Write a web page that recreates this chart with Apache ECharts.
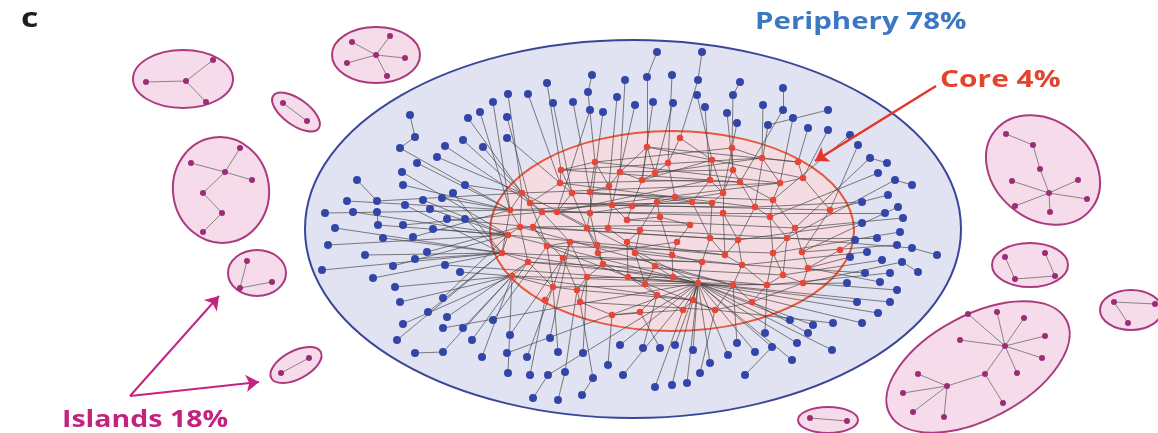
<!DOCTYPE html>
<html>
<head>
<meta charset="utf-8">
<script src="https://cdn.jsdelivr.net/npm/echarts@6/dist/echarts.min.js"></script>
<style>
html, body { margin: 0; padding: 0; background: #ffffff; }
#chart { width: 1158px; height: 433px; }
</style>
</head>
<body>
<div id="chart"></div>
<script>
// Core nodes: [x, y] in diagram units
const coreNodes = [
  [647,147],[595,162],[561,170],[620,172],[655,173],[668,163],[560,183],[590,192],[609,186],[642,180],
  [522,193],[572,193],[530,203],[542,212],[557,212],[590,213],[612,205],[632,206],[675,197],[657,202],
  [510,210],[520,227],[533,227],[508,235],[587,228],[608,228],[627,220],[660,217],[640,230],[677,242],
  [547,246],[570,242],[597,245],[627,242],[502,253],[528,262],[563,258],[598,253],[635,253],[672,255],
  [655,266],[603,264],[512,276],[587,277],[628,277],[553,287],[577,290],[645,284],[580,302],[657,295],
  [673,277],[680,138],[732,148],[762,158],[798,162],[712,160],[733,170],[710,180],[740,182],[780,183],
  [803,178],[723,193],[692,202],[712,203],[755,207],[773,200],[723,213],[770,217],[830,210],[795,228],
  [710,238],[738,240],[787,238],[725,255],[773,253],[802,252],[702,262],[742,265],[783,275],[808,268],
  [698,283],[733,285],[767,285],[803,283],[693,300],[715,310],[683,310],[612,315],[640,312],[752,302],
  [840,250],[690,225],[545,300]
];

// Periphery nodes: [x, y, node it hangs from]
const peripheryNodes = [
  [657,52,'p2'],[702,52,'p5'],[647,77,'c0'],[672,75,'c5'],[625,80,'c3'],[698,80,'c51'],[592,75,'p8'],[547,83,'c2'],[588,92,'c1'],[508,94,'c10'],
  [528,94,'c6'],[617,97,'c8'],[653,102,'c9'],[673,103,'c4'],[493,102,'c20'],[553,103,'c11'],[573,102,'c7'],[635,105,'c16'],[590,110,'c14'],[603,112,'c15'],
  [697,95,'c55'],[705,107,'c57'],[727,113,'c56'],[733,95,'c52'],[740,82,'p23'],[783,88,'p27'],[763,105,'c53'],[783,110,'c58'],[793,118,'c59'],[828,110,'p31'],
  [737,123,'c61'],[768,125,'c64'],[808,128,'c54'],[828,130,'c60'],[850,135,'c65'],[858,145,'c68'],[870,158,'c69'],[887,163,'p36'],[878,173,'c67'],[895,180,'c72'],
  [912,185,'p39'],[888,195,'c68'],[862,202,'c64'],[898,207,'c75'],[903,218,'c69'],[885,213,'c66'],[862,223,'c71'],[900,232,'c74'],[877,238,'c70'],[855,240,'c90'],
  [897,245,'c75'],[912,248,'c72'],[867,252,'c77'],[850,257,'c79'],[937,255,'p51'],[882,260,'c78'],[902,262,'c83'],[865,273,'c76'],[890,273,'c82'],[918,272,'p56'],
  [847,283,'c81'],[880,282,'c79'],[897,290,'c83'],[857,302,'c80'],[890,302,'c80'],[878,313,'c80'],[862,323,'c80'],[832,350,'c80'],[833,323,'c85'],[813,325,'c80'],
  [792,360,'c80'],[808,333,'c89'],[797,343,'c80'],[772,347,'c80'],[765,333,'c82'],[755,352,'c80'],[737,343,'c81'],[728,355,'c80'],[710,363,'c80'],[745,375,'p73'],
  [700,373,'c85'],[687,383,'c80'],[672,385,'c84'],[655,387,'c86'],[693,350,'c80'],[675,345,'c80'],[660,348,'c88'],[643,348,'c49'],[790,320,'c80'],[620,345,'c80'],
  [608,365,'c87'],[623,375,'c80'],[593,378,'c48'],[583,353,'c43'],[582,395,'p92'],[558,400,'p97'],[533,398,'p99'],[565,372,'c46'],[558,352,'c45'],[548,375,'c80'],
  [530,375,'c92'],[550,338,'c31'],[527,357,'c45'],[508,373,'c42'],[507,353,'c80'],[510,335,'c36'],[482,357,'c42'],[472,340,'c35'],[443,352,'c42'],[415,353,'p108'],
  [397,340,'c34'],[493,320,'c30'],[463,328,'c42'],[443,328,'c80'],[403,324,'c42'],[447,317,'c35'],[428,312,'c34'],[400,302,'c42'],[443,298,'c23'],[395,287,'c42'],
  [373,278,'c34'],[322,270,'c34'],[393,266,'c23'],[445,265,'c80'],[460,272,'c42'],[415,259,'c34'],[427,252,'c21'],[365,255,'c34'],[328,245,'c23'],[383,238,'c34'],
  [413,237,'c20'],[433,229,'c23'],[335,228,'c34'],[378,225,'c23'],[403,225,'c13'],[325,213,'c20'],[353,212,'c23'],[377,212,'p133'],[405,205,'c34'],[430,209,'c23'],
  [447,219,'c22'],[465,219,'c34'],[347,201,'c20'],[377,201,'c10'],[423,200,'c23'],[442,198,'c20'],[453,193,'c34'],[357,180,'p143'],[403,185,'c20'],[465,185,'c10'],
  [402,172,'c23'],[417,163,'c20'],[437,157,'c10'],[400,148,'c20'],[445,146,'c12'],[483,147,'c10'],[415,137,'p153'],[463,140,'c13'],[507,138,'c6'],[410,115,'p156'],
  [468,118,'c10'],[480,112,'c20'],[507,117,'c12']
];

// Links inside the core: pairs of core node indices
const coreLinks = [
  [0,9],[0,3],[1,8],[1,2],[2,6],[3,8],[4,9],[4,5],[5,51],[6,11],[7,8],[7,15],[9,17],[10,12],[10,20],[11,14],[12,13],[13,22],[14,15],[15,24],
  [16,17],[16,25],[17,26],[18,19],[18,62],[19,27],[20,21],[21,23],[22,30],[23,34],[24,25],[25,28],[26,27],[27,91],[28,33],[29,39],[29,91],[30,31],[31,36],[32,37],
  [32,24],[33,38],[34,35],[35,42],[36,45],[37,41],[38,40],[39,50],[40,47],[41,43],[43,46],[44,47],[45,46],[46,48],[47,49],[48,87],[49,86],[50,80],[51,55],[52,56],
  [53,59],[54,60],[55,57],[56,58],[57,61],[58,64],[59,65],[60,68],[61,63],[62,63],[63,70],[64,67],[65,69],[66,71],[67,72],[68,75],[69,72],[70,76],[71,73],[72,74],
  [73,77],[74,78],[75,79],[76,80],[77,81],[78,82],[79,83],[80,84],[80,86],[81,85],[82,89],[83,89],[84,85],[87,88],[88,49],[90,79],[92,45],
  [23,80],[34,80],[21,70],[13,66],[10,59],[6,57],[2,53],[20,67],[42,82],[35,78],[30,74],[45,81],[12,63],[22,91],[31,39],[36,76],[11,18],[7,62],[1,52],[0,54],
  [3,56],[9,58],[17,64],[26,69],[28,72],[33,73],[38,77],[40,81],[47,80],[44,80],[41,80],[37,29],[43,50],[46,84],[48,85],
  [0,4],[1,7],[2,11],[3,9],[5,18],[6,12],[8,16],[10,21],[11,24],[12,30],[13,31],[14,24],[15,32],[16,26],[19,28],[20,34],[21,35],[22,36],[24,37],[25,33],
  [27,39],[28,38],[30,45],[31,43],[32,41],[33,44],[35,45],[36,46],[38,47],[39,76],[40,50],[41,44],[42,45],[43,48],[44,49],[52,53],[53,54],[55,61],[56,61],[57,62],
  [58,65],[59,60],[61,66],[62,70],[64,71],[65,67],[66,73],[67,74],[69,75],[70,73],[71,77],[72,78],[74,82],[76,84],[77,82],[78,83],[81,89],[84,86],[85,89],[86,87],
  [10,80],[20,62],[23,73],[34,76],[21,81],[42,84],[12,68],[13,59],[22,71],[35,82],[30,85],[2,58],[6,64],[11,65],[1,59],[0,60],[4,53],[9,55],[14,57],[15,61]
];

// Island nodes: [x, y]
const islandNodes = [
  [186,81],[213,60],[146,82],[206,102],
  [376,55],[352,42],[390,36],[347,63],[387,76],[405,58],
  [283,103],[307,121],
  [240,148],[191,163],[225,172],[252,180],[203,193],[222,213],[203,232],
  [247,261],[240,288],[272,282],
  [281,373],[309,358],
  [1006,134],[1033,145],[1040,169],[1012,181],[1078,180],[1049,193],[1087,199],[1015,206],[1050,212],
  [1005,257],[1045,253],[1015,279],[1055,276],
  [1114,302],[1128,323],[1155,304],
  [1005,346],[968,314],[997,312],[1024,318],[960,340],[1045,336],[1042,358],[1017,373],[985,374],[947,386],[918,374],[903,393],[913,412],[944,417],[1003,403],
  [810,418],[847,421]
];

// Island links: pairs of island node indices
const islandLinks = [
  [0,1],[0,2],[0,3],
  [4,5],[4,6],[4,7],[4,8],[4,9],
  [10,11],
  [12,14],[13,14],[14,15],[14,16],[16,17],[17,18],
  [19,20],[20,21],
  [22,23],
  [24,25],[25,26],[26,29],[27,29],[28,29],[29,30],[29,31],[29,32],
  [33,35],[35,36],[34,36],
  [37,38],[37,39],
  [40,41],[40,42],[40,43],[40,44],[40,45],[40,46],[40,47],[40,48],[48,49],[48,54],[49,50],[49,51],[49,52],[49,53],
  [55,56]
];

// Outlines: [cx, cy, rx, ry, tilt in degrees]
const peripheryOutline = [[633, 229, 328, 189, 0]];
const coreOutline = [[672, 231, 182, 100, 0]];
const islandOutlines = [
  [183, 79, 50, 29, 0],
  [376, 55, 44, 28, 0],
  [296, 112, 28, 13, -36],
  [221, 190, 48, 53, 8],
  [257, 273, 29, 23, 0],
  [296, 365, 28, 14, 28],
  [1043, 170, 62, 49, -40],
  [1030, 265, 38, 22, 0],
  [1131, 310, 31, 20, 0],
  [978, 367, 100, 52, 28],
  [828, 420, 30, 13, 0]
];

// Annotation arrows: [[fromX, fromY], [toX, toY]]
const coreArrow = [[[936, 86], [815, 161]]];
const islandArrows = [[[130, 396], [219, 296]], [[130, 396], [259, 382]]];

const labels = [
  { text: 'c', at: [21, 20] },
  { text: 'Periphery 78%', at: [755, 22] },
  { text: 'Core 4%', at: [940, 80] },
  { text: 'Islands 18%', at: [62, 420] }
];

// ---- build series ----
const networkNodes = coreNodes.map((p, i) => ({ name: 'c' + i, value: [p[0], p[1]], category: 0 }))
  .concat(peripheryNodes.map((p, i) => ({ name: 'p' + i, value: [p[0], p[1]], category: 1 })));
const networkLinks = coreLinks.map(l => ({ source: 'c' + l[0], target: 'c' + l[1] }))
  .concat(peripheryNodes.map((p, i) => ({ source: 'p' + i, target: p[2] })));

const islandGraphNodes = islandNodes.map((p, i) => ({ name: 'i' + i, value: [p[0], p[1]] }));
const islandGraphLinks = islandLinks.map(l => ({ source: 'i' + l[0], target: 'i' + l[1] }));

function outlineSeries(data, fill, stroke, width, z) {
  return {
    type: 'custom',
    coordinateSystem: 'cartesian2d',
    silent: true,
    z: z,
    data: data,
    renderItem: function (params, api) {
      const c = api.coord([api.value(0), api.value(1)]);
      const s = api.size([api.value(2), api.value(3)]);
      return {
        type: 'ellipse',
        x: c[0],
        y: c[1],
        rotation: api.value(4) * Math.PI / 180,
        shape: { cx: 0, cy: 0, rx: Math.abs(s[0]), ry: Math.abs(s[1]) },
        style: { fill: fill, stroke: stroke, lineWidth: width }
      };
    }
  };
}

function arrowSeries(data, color, width, z) {
  return {
    type: 'lines',
    coordinateSystem: 'cartesian2d',
    silent: true,
    z: z,
    symbol: ['none', 'arrow'],
    symbolSize: [0, 13],
    lineStyle: { color: color, width: width, opacity: 1, curveness: 0 },
    data: data.map(d => ({ coords: d }))
  };
}

const labelColors = ['#1e1e1e', '#3b78c2', '#e2452e', '#c3227f'];
const labelSizes = [26, 23, 23, 23];
const labelStretch = [1.3, 1.28, 1.3, 1.24];

const option = {
  animation: false,
  backgroundColor: '#ffffff',
  grid: { left: 0, right: 0, top: 0, bottom: 0 },
  xAxis: { type: 'value', min: 0, max: 1158, show: false },
  yAxis: { type: 'value', min: 0, max: 433, inverse: true, show: false },
  graphic: labels.map((l, i) => ({
    type: 'text',
    x: l.at[0],
    y: l.at[1],
    scaleX: labelStretch[i],
    z: 100,
    style: {
      text: l.text,
      fill: labelColors[i],
      font: 'bold ' + labelSizes[i] + 'px "Open Sans", sans-serif',
      textAlign: 'left',
      textVerticalAlign: 'middle'
    }
  })),
  series: [
    outlineSeries(peripheryOutline, '#e1e2f2', '#3a4799', 2, 1),
    outlineSeries(coreOutline, '#f4dce2', '#e8573a', 2, 2),
    outlineSeries(islandOutlines, '#f6dcea', '#ab3a7f', 2, 1),
    {
      type: 'graph',
      coordinateSystem: 'cartesian2d',
      layout: 'none',
      silent: true,
      z: 3,
      symbol: 'circle',
      symbolSize: 6,
      categories: [
        { name: 'core', itemStyle: { color: '#e8463a' }, symbolSize: 6.5 },
        { name: 'periphery', itemStyle: { color: '#3346a8' }, symbolSize: 8 }
      ],
      data: networkNodes,
      links: networkLinks,
      lineStyle: { color: '#444444', width: 0.85, opacity: 0.8, curveness: 0 },
      label: { show: false },
      emphasis: { disabled: true }
    },
    {
      type: 'graph',
      coordinateSystem: 'cartesian2d',
      layout: 'none',
      silent: true,
      z: 3,
      symbol: 'circle',
      symbolSize: 6,
      itemStyle: { color: '#9c2c78' },
      data: islandGraphNodes,
      links: islandGraphLinks,
      lineStyle: { color: '#666666', width: 0.9, opacity: 0.85, curveness: 0 },
      label: { show: false },
      emphasis: { disabled: true }
    },
    arrowSeries(coreArrow, '#e3372b', 2.5, 4),
    arrowSeries(islandArrows, '#c4247f', 2, 4)
  ]
};

const chart = echarts.init(document.getElementById('chart'), null, { renderer: 'canvas' });
chart.setOption(option);
</script>
</body>
</html>
